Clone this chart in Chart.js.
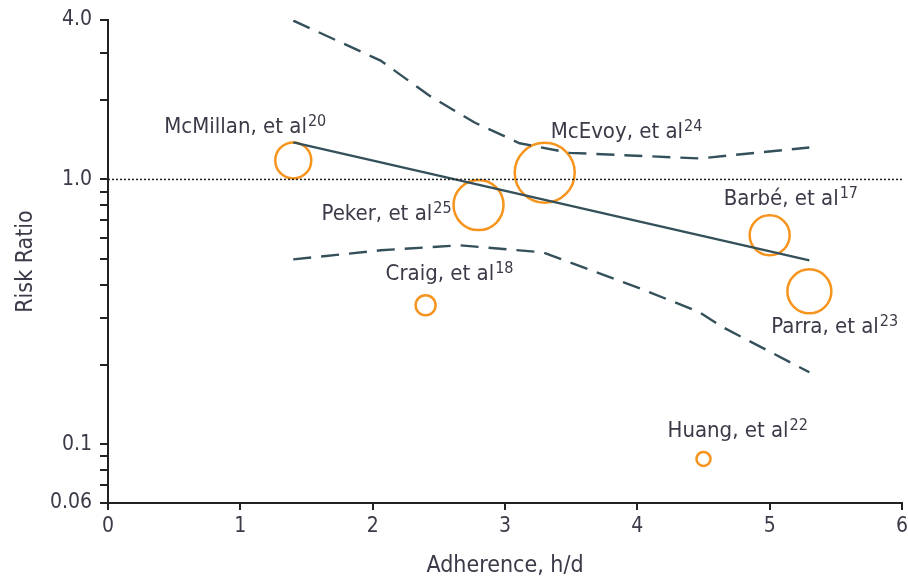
<!DOCTYPE html>
<html>
<head>
<meta charset="utf-8">
<script src="https://cdn.jsdelivr.net/npm/chart.js@4/dist/chart.umd.min.js"></script>
<style>
  body { margin: 0; background: #fff; }
  #wrap { width: 908px; height: 580px; }
</style>
</head>
<body>
<div id="wrap"><canvas id="chart"></canvas></div>
<script>
// studies (bubble = one study, size ~ weight)
const studyNames = ['McMillan, et al', 'Peker, et al', 'McEvoy, et al', 'Craig, et al', 'Huang, et al', 'Barbé, et al', 'Parra, et al'];
const studyRefs = ['20', '25', '24', '18', '22', '17', '23'];
const studyAdherence = [1.4, 2.8, 3.3, 2.4, 4.5, 5.0, 5.3];
const studyRR = [1.18, 0.80, 1.06, 0.335, 0.088, 0.615, 0.378];
const studyWeight = [18, 25, 30, 10, 7, 20, 22];

// meta-regression line + 95% CI band
const fitX = [1.4, 5.3];
const fitY = [1.38, 0.495];
const upperX = [1.4, 2.06, 2.43, 2.77, 3.11, 3.49, 4.47, 5.3];
const upperY = [3.98, 2.81, 2.07, 1.64, 1.37, 1.26, 1.2, 1.32];
const lowerX = [1.4, 2.06, 2.66, 3.29, 4.02, 4.47, 4.65, 5.3];
const lowerY = [0.499, 0.54, 0.564, 0.53, 0.388, 0.315, 0.276, 0.187];

const refX = [0, 6];
const refY = [1, 1];

const yTicks = [0.06, 0.07, 0.08, 0.09, 0.1, 0.2, 0.3, 0.4, 0.5, 0.6, 0.7, 0.8, 0.9, 1, 2, 3, 4];
const yTickLabels = { 0.06: '0.06', 0.1: '0.1', 1: '1.0', 4: '4.0' };

// label placement relative to bubble centre (px)
const labelOffset = [[-129, -27], [-157, 15], [6, -35], [-40, -25], [-36, -22], [-46, -30], [-38, 42]];

const FONT = "'DejaVu Sans Condensed', 'Liberation Sans Narrow', 'Liberation Sans', sans-serif";
const TEXT = '#3a3a48';
const LINE = '#34505a';
const ORANGE = '#f7941d';

function pts(xs, ys) { return xs.map((x, i) => ({ x: x, y: ys[i] })); }

const labelPlugin = {
  id: 'studyLabels',
  afterDatasetsDraw(chart) {
    const ctx = chart.ctx;
    const xs = chart.scales.x, ys = chart.scales.y;
    ctx.save();
    ctx.fillStyle = TEXT;
    ctx.textBaseline = 'alphabetic';
    ctx.textAlign = 'left';
    studyNames.forEach((name, i) => {
      const px = xs.getPixelForValue(studyAdherence[i]) + labelOffset[i][0];
      const py = ys.getPixelForValue(studyRR[i]) + labelOffset[i][1];
      ctx.font = '22px ' + FONT;
      ctx.fillText(name, px, py);
      const w = ctx.measureText(name).width;
      ctx.font = '16px ' + FONT;
      ctx.fillText(studyRefs[i], px + w + 1, py - 7);
    });
    ctx.restore();
  }
};

new Chart(document.getElementById('chart'), {
  type: 'bubble',
  data: {
    datasets: [
      {
        type: 'line', data: pts(refX, refY), borderColor: '#222', borderWidth: 1.5,
        borderDash: [2, 2], pointRadius: 0, fill: false
      },
      {
        type: 'line', data: pts(fitX, fitY), borderColor: LINE, borderWidth: 2.4,
        pointRadius: 0, fill: false
      },
      {
        type: 'line', data: pts(upperX, upperY), borderColor: LINE, borderWidth: 2.4,
        borderDash: [18, 10], pointRadius: 0, fill: false
      },
      {
        type: 'line', data: pts(lowerX, lowerY), borderColor: LINE, borderWidth: 2.4,
        borderDash: [18, 10], pointRadius: 0, fill: false
      },
      {
        data: studyAdherence.map((x, i) => ({ x: x, y: studyRR[i], r: studyWeight[i] })),
        borderColor: ORANGE, borderWidth: 2.5, backgroundColor: 'rgba(0,0,0,0)'
      }
    ]
  },
  options: {
    responsive: true,
    maintainAspectRatio: false,
    animation: false,
    events: [],
    layout: { autoPadding: false, padding: { top: 20, right: 6, left: 0, bottom: 0 } },
    plugins: { legend: { display: false }, tooltip: { enabled: false } },
    scales: {
      x: {
        type: 'linear', min: 0, max: 6,
        afterFit(scale) { scale.height = 77; scale.paddingLeft = 0; scale.paddingRight = 0; },
        border: { color: '#222', width: 2 },
        grid: { drawOnChartArea: false, drawTicks: true, tickLength: 7, color: '#222', lineWidth: 2 },
        ticks: { stepSize: 1, color: TEXT, padding: 4, font: { family: FONT, size: 21 } },
        title: { display: true, text: 'Adherence, h/d', color: TEXT, padding: { top: 0, bottom: 0 }, font: { family: FONT, size: 23 } }
      },
      y: {
        type: 'logarithmic', min: 0.06, max: 4,
        afterFit(scale) { scale.width = 108; scale.paddingTop = 0; scale.paddingBottom = 0; },
        afterBuildTicks(scale) { scale.ticks = yTicks.map(v => ({ value: v })); },
        border: { color: '#222', width: 2 },
        grid: { drawOnChartArea: false, drawTicks: true, tickLength: 8, color: '#222', lineWidth: 2 },
        ticks: {
          autoSkip: false, color: TEXT, padding: 8, font: { family: FONT, size: 21 },
          callback: v => yTickLabels[v] || ''
        },
        title: { display: true, text: 'Risk Ratio', color: TEXT, padding: { top: 12, bottom: 0 }, font: { family: FONT, size: 23 } }
      }
    }
  },
  plugins: [labelPlugin]
});
</script>
</body>
</html>
